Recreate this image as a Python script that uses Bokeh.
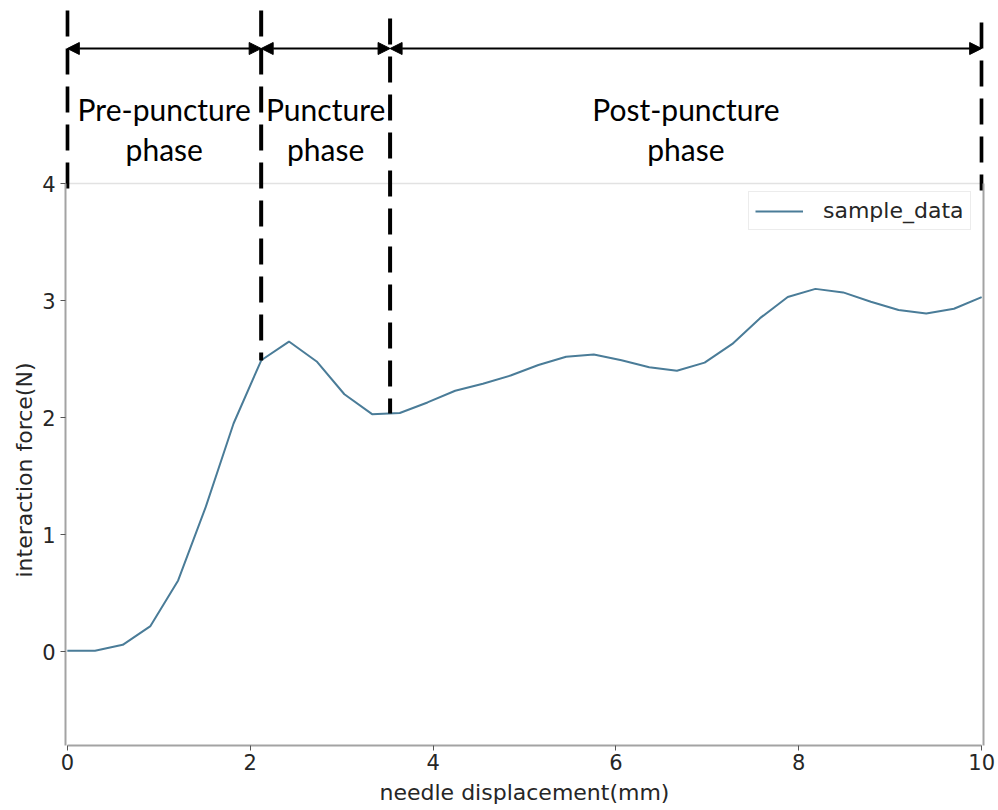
import numpy as np
from bokeh.plotting import figure
from bokeh.models import (Range1d, FixedTicker, LinearAxis, Title, Arrow, NormalHead,
                          Legend, LegendItem)
from bokeh.core.properties import value
from bokeh.embed import file_html
from bokeh.resources import INLINE

# ---------------- data ----------------
displacement = [0.000, 0.303, 0.606, 0.909, 1.212, 1.515, 1.818, 2.121, 2.424, 2.727,
                3.030, 3.333, 3.636, 3.939, 4.242, 4.545, 4.848, 5.152, 5.455, 5.758,
                6.061, 6.364, 6.667, 6.970, 7.273, 7.576, 7.879, 8.182, 8.485, 8.788,
                9.091, 9.394, 9.697, 10.000]
force = [0.01, 0.01, 0.06, 0.22, 0.61, 1.24, 1.95, 2.49, 2.65, 2.48,
         2.20, 2.03, 2.04, 2.13, 2.23, 2.29, 2.36, 2.45, 2.52, 2.54,
         2.49, 2.43, 2.40, 2.47, 2.63, 2.85, 3.03, 3.10, 3.07, 2.99,
         2.92, 2.89, 2.93, 3.03]
phase_bounds = [0.0, 2.12, 3.53, 10.0]
phase_line1 = ["Pre-puncture", "Puncture", "Post-puncture"]
phase_line2 = ["phase", "phase", "phase"]
x_ticks = [0, 2, 4, 6, 8, 10]
y_ticks = [0, 1, 2, 3, 4]
series_name = "sample_data"

# ---------------- layout ----------------
W, H = 998, 810
FRAME_LEFT, FRAME_RIGHT = 65, 983
FRAME_TOP_PX, FRAME_BOTTOM_PX = 183, 745      # axes box inside the full-height frame
X_LO, X_HI, X_PAD = 0.0, 10.0, 0.02
Y_LO, Y_HI = -0.8, 4.0
y_end = Y_HI + FRAME_TOP_PX / (FRAME_BOTTOM_PX - FRAME_TOP_PX) * (Y_HI - Y_LO)


def px_to_y(py):
    return Y_HI + (FRAME_TOP_PX - py) / (FRAME_BOTTOM_PX - FRAME_TOP_PX) * (Y_HI - Y_LO)


p = figure(width=W, height=H, x_range=Range1d(X_LO - X_PAD, X_HI + X_PAD),
           y_range=Range1d(Y_LO, y_end),
           output_backend="svg", toolbar_location=None,
           min_border_left=FRAME_LEFT, min_border_right=W - FRAME_RIGHT,
           min_border_top=0, min_border_bottom=H - FRAME_BOTTOM_PX)
p.outline_line_color = None
p.grid.visible = False
p.background_fill_color = "white"

SPINE = "#a3a3a3"
TXT = "#262626"
FONT = "DejaVu Sans"

xax = p.xaxis[0]
xax.ticker = FixedTicker(ticks=x_ticks)
xax.bounds = (X_LO, X_HI)
xax.axis_label = "needle displacement(mm)"
xax.axis_label_text_font = FONT
xax.axis_label_text_font_size = "22px"
xax.axis_label_text_font_style = "normal"
xax.axis_label_text_color = TXT
xax.axis_label_standoff = 7
xax.major_label_text_font = FONT
xax.major_label_text_font_size = "21px"
xax.major_label_text_color = TXT
xax.major_label_standoff = 3
xax.major_tick_in = 0
xax.major_tick_out = 5
xax.major_tick_line_color = "#555555"
xax.minor_tick_line_color = None
xax.axis_line_color = SPINE
xax.axis_line_width = 2

yax = p.yaxis[0]
yax.ticker = FixedTicker(ticks=y_ticks)
yax.bounds = (Y_LO, Y_HI)
yax.major_label_text_font = FONT
yax.major_label_text_font_size = "21px"
yax.major_label_text_color = TXT
yax.major_label_standoff = 5
yax.major_tick_in = 0
yax.major_tick_out = 5
yax.major_tick_line_color = "#555555"
yax.minor_tick_line_color = None
yax.axis_line_color = SPINE
yax.axis_line_width = 2

ylab = Title(text="interaction force(N)", align="left", offset=168,
             text_font=FONT, text_font_size="22px", text_font_style="normal",
             text_color=TXT, standoff=6)
p.add_layout(ylab, "left")

rax = LinearAxis(ticker=FixedTicker(ticks=[]), bounds=(Y_LO, Y_HI),
                 major_label_text_font_size="0px", axis_line_color=SPINE,
                 axis_line_width=2, major_tick_line_color=None, minor_tick_line_color=None)
p.add_layout(rax, "right")

# top border of the axes box
p.segment(x0=[X_LO - X_PAD], y0=[Y_HI], x1=[X_HI + X_PAD], y1=[Y_HI],
          line_color="#e2e2e2", line_width=1.5)

# data line
r = p.line(displacement, force, line_color="#4a7c98", line_width=2)

legend = Legend(items=[LegendItem(label=series_name, renderers=[r])],
                location=(748 - FRAME_LEFT, FRAME_BOTTOM_PX - 230),
                label_text_font=FONT, label_text_font_size="22px", label_text_color=TXT,
                glyph_width=48, glyph_height=20, label_standoff=20, padding=6, margin=0,
                spacing=0, border_line_color="#d9d9d9", border_line_width=1,
                background_fill_color="white", background_fill_alpha=1.0)
p.add_layout(legend)

# ---------------- phase annotations ----------------
dash_tops = [px_to_y(10), px_to_y(10), px_to_y(18), px_to_y(22)]
frame_end = px_to_y(190)
dash_bottoms = []
for i, b in enumerate(phase_bounds):
    if i in (0, len(phase_bounds) - 1):
        dash_bottoms.append(frame_end)
    else:
        dash_bottoms.append(float(np.interp(b, displacement, force)))
p.segment(x0=phase_bounds, y0=dash_tops, x1=phase_bounds, y1=dash_bottoms,
          line_color="black", line_width=4, line_dash="26 12")

arrow_y = px_to_y(48)
for a, b in zip(phase_bounds[:-1], phase_bounds[1:]):
    p.add_layout(Arrow(x_start=a, y_start=arrow_y, x_end=b, y_end=arrow_y,
                       line_color="black", line_width=2,
                       start=NormalHead(size=12, fill_color="black", line_color="black", line_width=1),
                       end=NormalHead(size=12, fill_color="black", line_color="black", line_width=1)))

mids = [(a + b) / 2 for a, b in zip(phase_bounds[:-1], phase_bounds[1:])]
p.text(x=mids, y=[px_to_y(108)] * len(mids), text=phase_line1, text_align="center",
       text_baseline="alphabetic", text_font=value("Lato"), text_font_size="30px",
       text_color="black")
p.text(x=mids, y=[px_to_y(148)] * len(mids), text=phase_line2, text_align="center",
       text_baseline="alphabetic", text_font=value("Lato"), text_font_size="30px",
       text_color="black")

open("out.html", "w").write(file_html(p, INLINE))
